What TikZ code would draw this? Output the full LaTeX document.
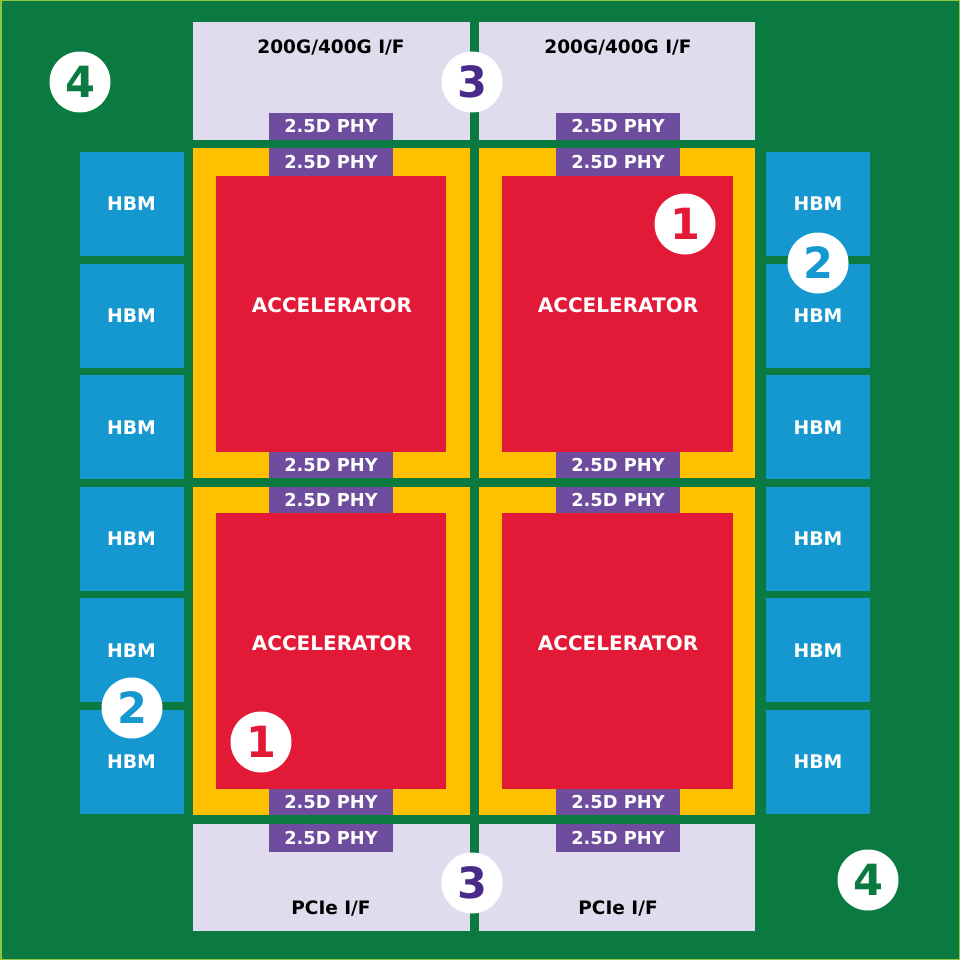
\documentclass[tikz,border=0pt]{standalone}
\usepackage{fontspec}
\setmainfont{DejaVu Sans}
\definecolor{bggreen}{HTML}{0B7A40}
\definecolor{limeedge}{HTML}{8DC63F}
\definecolor{lav}{HTML}{E1DBEE}
\definecolor{accyel}{HTML}{FFC000}
\definecolor{accred}{HTML}{E21A38}
\definecolor{phypur}{HTML}{6E4C9E}
\definecolor{hbmblue}{HTML}{1598CF}
\definecolor{darkpur}{HTML}{4A2A88}
\tikzset{
  box/.style={rectangle, inner sep=0pt, outer sep=0pt, draw=none},
  ifbox/.style={box, fill=lav},
  frame/.style={box, fill=accyel},
  accel/.style={box, fill=accred, text=white, font=\fontsize{20}{24}\selectfont\bfseries},
  phy/.style={box, fill=phypur, text=white, minimum width=124pt, font=\fontsize{17.8}{20}\selectfont\bfseries},
  hbm/.style={box, fill=hbmblue, text=white, minimum width=104pt, minimum height=104pt, font=\fontsize{18.8}{22}\selectfont\bfseries},
  iftext/.style={inner sep=0pt, text=black, font=\fontsize{18.5}{20}\selectfont\bfseries},
  badge/.style={circle, fill=white, minimum size=61pt, inner sep=0pt, font=\fontsize{43}{43}\selectfont\bfseries},
}
\begin{document}
\begin{tikzpicture}[x=1pt,y=-1pt]
\fill[bggreen] (0,0) rectangle (960,960);
\draw[limeedge, line width=1.5pt] (0.75,0.75) rectangle (959.25,959.25);
\useasboundingbox (0,0) rectangle (960,960);
% I/F boxes
\node[ifbox, minimum width=277pt, minimum height=118pt] (ifTL) at (331.5,81) {};
\node[ifbox, minimum width=276pt, minimum height=118pt] (ifTR) at (617,81) {};
\node[ifbox, minimum width=277pt, minimum height=107pt] (ifBL) at (331.5,877.5) {};
\node[ifbox, minimum width=276pt, minimum height=107pt] (ifBR) at (617,877.5) {};
\node[iftext] (tTL) at (331,47) {200G/400G I/F};
\node[iftext] (tTR) at (618,47) {200G/400G I/F};
\node[iftext] (tBL) at (331,908) {PCIe I/F};
\node[iftext] (tBR) at (618,908) {PCIe I/F};
% frames
\node[frame, minimum width=277pt, minimum height=330pt] (fTL) at (331.5,313) {};
\node[frame, minimum width=276pt, minimum height=330pt] (fTR) at (617,313) {};
\node[frame, minimum width=277pt, minimum height=328pt] (fBL) at (331.5,651) {};
\node[frame, minimum width=276pt, minimum height=328pt] (fBR) at (617,651) {};
% accelerators
\node[accel, minimum width=230pt, minimum height=276pt] (aTL) at (331,314) {};
\node[accel, minimum width=231pt, minimum height=276pt] (aTR) at (617.5,314) {};
\node[accel, minimum width=230pt, minimum height=276pt] (aBL) at (331,651) {};
\node[accel, minimum width=231pt, minimum height=276pt] (aBR) at (617.5,651) {};
\node[accel, fill=none] (lTL) at (332,305) {ACCELERATOR};
\node[accel, fill=none] (lTR) at (618,305) {ACCELERATOR};
\node[accel, fill=none] (lBL) at (332,643) {ACCELERATOR};
\node[accel, fill=none] (lBR) at (618,643) {ACCELERATOR};
% PHYs
\foreach \cx/\nm in {331/L,618/R}{
  \node[phy, minimum height=27pt] (pI\nm) at (\cx,126.5) {2.5D PHY};
  \node[phy, minimum height=28pt] (pA\nm) at (\cx,162) {2.5D PHY};
  \node[phy, minimum height=26pt] (pB\nm) at (\cx,465) {2.5D PHY};
  \node[phy, minimum height=26pt] (pC\nm) at (\cx,500) {2.5D PHY};
  \node[phy, minimum height=26pt] (pD\nm) at (\cx,802) {2.5D PHY};
  \node[phy, minimum height=28pt] (pE\nm) at (\cx,838) {2.5D PHY};
}
% HBMs
\foreach \i in {0,...,5}{
  \pgfmathsetmacro\cy{204+111.6*\i}
  \node[hbm] (hL\i) at (131.5,\cy) {HBM};
  \node[hbm] (hR\i) at (818,\cy) {HBM};
}
% badges
\node[badge, text=bggreen] (b4a) at (80,82) {4};
\node[badge, text=bggreen] (b4b) at (868,880) {4};
\node[badge, text=darkpur] (b3a) at (472,82) {3};
\node[badge, text=darkpur] (b3b) at (472,883) {3};
\node[badge, text=accred] (b1a) at (685,224) {1};
\node[badge, text=accred] (b1b) at (261,742) {1};
\node[badge, text=hbmblue] (b2a) at (818,263) {2};
\node[badge, text=hbmblue] (b2b) at (132,708) {2};
\end{tikzpicture}
\end{document}
